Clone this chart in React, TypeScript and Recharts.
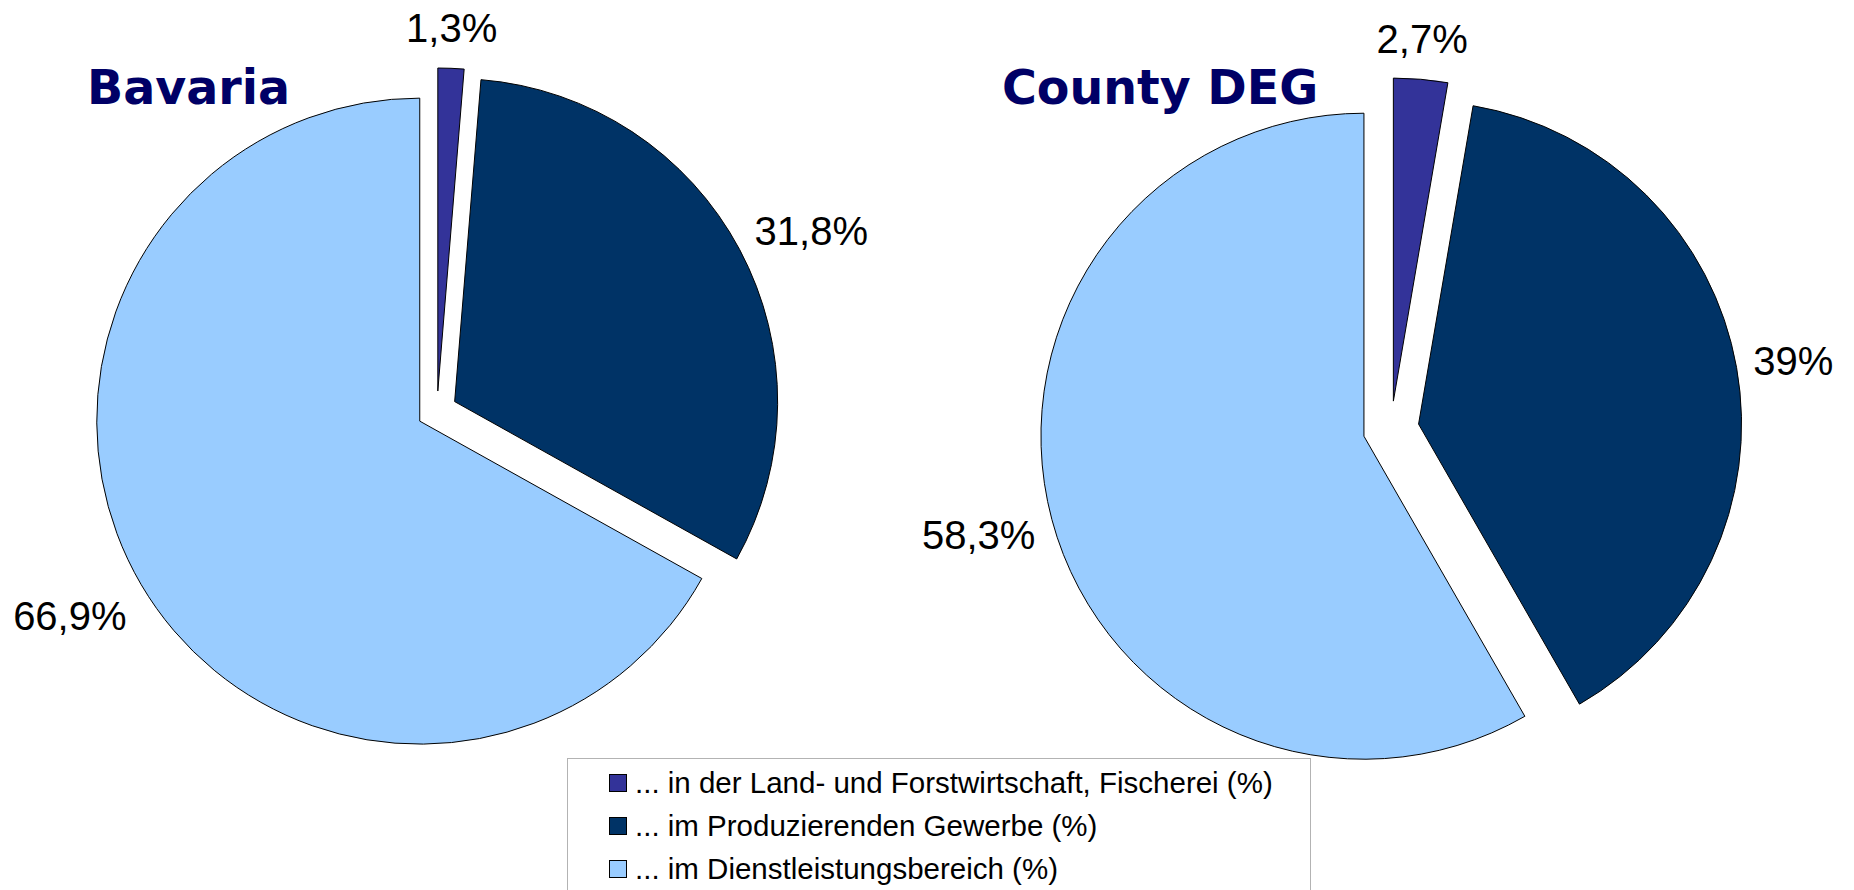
import { PieChart, Pie, Cell } from "recharts";

// sectors, clockwise from 12 o'clock
const CATEGORIES = [
  "... in der Land- und Forstwirtschaft, Fischerei (%)",
  "... im Produzierenden Gewerbe (%)",
  "... im Dienstleistungsbereich (%)",
];
const BAVARIA = [1.3, 31.8, 66.9];
const COUNTY_DEG = [2.7, 39, 58.3];
const TITLES = ["Bavaria", "County DEG"];
const COLORS = ["#333399", "#003366", "#99ccff"];

const RADIUS = 323;
const LABEL_FONT = '"Liberation Sans", Arial, sans-serif';
const TITLE_FONT = '"DejaVu Sans", Verdana, sans-serif';

// split the values into separate sectors so each one can be pulled out along its mid angle
function explodedSlices(values: number[], cx: number, cy: number, explode: number) {
  const total = values.reduce((a, b) => a + b, 0);
  let acc = 0;
  return values.map((v, i) => {
    const start = 90 - (acc / total) * 360;
    acc += v;
    const end = 90 - (acc / total) * 360;
    const mid = (((start + end) / 2) * Math.PI) / 180;
    return {
      i,
      value: v,
      start,
      end,
      cx: cx + explode * Math.cos(mid),
      cy: cy - explode * Math.sin(mid),
    };
  });
}

const fmt = (v: number) => String(v).replace(".", ",") + "%";

const renderLabel = (props: any) => {
  const { cx, cy, midAngle, outerRadius, value } = props;
  const rad = (-midAngle * Math.PI) / 180;
  const cos = Math.cos(rad);
  const sin = Math.sin(rad);
  const r = outerRadius + 17;
  const x = cx + r * cos;
  // labels below the centre sit a bit further out than those above
  const y = cy + r * sin + (sin > 0 ? 45 : 23) * sin;
  const anchor = cos > 0.3 ? "start" : cos < -0.3 ? "end" : "middle";
  return (
    <text
      x={x}
      y={y}
      textAnchor={anchor}
      dominantBaseline="central"
      fill="#000"
      fontSize={40}
      fontFamily={LABEL_FONT}
    >
      {fmt(value)}
    </text>
  );
};

export default function App() {
  const left = explodedSlices(BAVARIA, 437, 411, 20);
  const right = explodedSlices(COUNTY_DEG, 1391, 429, 28);

  return (
    <div
      style={{
        position: "absolute",
        left: 0,
        top: 0,
        width: 1854,
        height: 890,
        overflow: "hidden",
        background: "#fff",
      }}
    >
      <PieChart width={1854} height={890} margin={{ top: 0, right: 0, bottom: 0, left: 0 }}>
        {[...left, ...right].map((s, k) => (
          <Pie
            key={k}
            data={[{ name: CATEGORIES[s.i], value: s.value }]}
            dataKey="value"
            cx={s.cx}
            cy={s.cy}
            innerRadius={0}
            outerRadius={RADIUS}
            startAngle={s.start}
            endAngle={s.end}
            stroke="#000"
            strokeWidth={1}
            label={renderLabel}
            labelLine={false}
            isAnimationActive={false}
          >
            <Cell fill={COLORS[s.i]} />
          </Pie>
        ))}
      </PieChart>

      <svg
        width={1854}
        height={890}
        style={{ position: "absolute", left: 0, top: 0, pointerEvents: "none" }}
      >
        <text x={87} y={104} fontSize={47.5} fontWeight="bold" fill="#000066" fontFamily={TITLE_FONT}>
          {TITLES[0]}
        </text>
        <text x={1002} y={104} fontSize={47.5} fontWeight="bold" fill="#000066" fontFamily={TITLE_FONT}>
          {TITLES[1]}
        </text>
      </svg>

      <div
        style={{
          position: "absolute",
          left: 567,
          top: 758,
          width: 744,
          height: 160,
          border: "1px solid #b3b3b3",
          boxSizing: "border-box",
          paddingTop: 2,
          paddingLeft: 41,
          fontFamily: LABEL_FONT,
          fontSize: 29.5,
          color: "#000",
        }}
      >
        {CATEGORIES.map((c, i) => (
          <div key={i} style={{ display: "flex", alignItems: "center", height: 43 }}>
            <span
              style={{
                width: 18,
                height: 18,
                boxSizing: "border-box",
                border: "1px solid #000",
                background: COLORS[i],
                marginRight: 8,
                flex: "none",
              }}
            />
            <span style={{ whiteSpace: "nowrap" }}>{c}</span>
          </div>
        ))}
      </div>
    </div>
  );
}
